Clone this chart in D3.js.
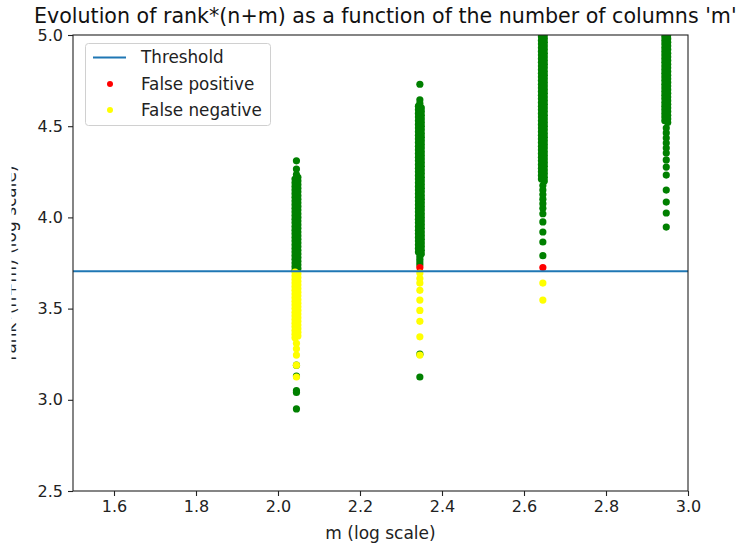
<!DOCTYPE html>
<html>
<head>
<meta charset="utf-8">
<script src="https://cdn.jsdelivr.net/npm/d3@7"></script>
<style>
html,body{margin:0;padding:0;background:#fff;overflow:hidden;}
svg{display:block;font-family:"DejaVu Sans",sans-serif;}
</style>
</head>
<body>
<svg id="chart" width="737" height="544"></svg>
<script>
// ---------- data ----------
const titleText = "Evolution of rank*(n+m) as a function of the number of columns 'm'";
const xLabel = "m (log scale)";
const yLabel = "rank*(n+m) (log scale)";
const xTicks = [1.6, 1.8, 2.0, 2.2, 2.4, 2.6, 2.8, 3.0];
const yTicks = [2.5, 3.0, 3.5, 4.0, 4.5, 5.0];
const threshold = 3.705;
const legendLabels = ["Threshold", "False positive", "False negative"];

// log10(m) of the four column groups (slightly spread m values)
const mCenter = [2.045, 2.346, 2.646, 2.947];
const mLeft   = [2.0415, 2.3425, 2.6425, 2.9435];
const mRight  = [2.0485, 2.3495, 2.6495, 2.9505];

// log10(rank*(n+m)) values, correctly classified (green)
const c1GreenL = [4.21,4.19,4.17,4.15,4.13,4.11,4.09,4.07,4.05,4.03,4.01,3.99,3.97,3.95,3.93,3.91,3.89,3.87,3.85,3.83,3.81,3.79,3.77,3.75,3.73,3.71];
const c1GreenR = [4.22,4.20,4.18,4.16,4.14,4.12,4.10,4.08,4.06,4.04,4.02,4.00,3.98,3.96,3.94,3.92,3.90,3.88,3.86,3.84,3.82,3.80,3.78,3.76,3.74,3.72];
const c1GreenC = [4.31,4.265,4.235,3.19,3.13,3.05,3.04,2.95];
const c2GreenL = [4.61,4.59,4.57,4.55,4.53,4.51,4.49,4.47,4.45,4.43,4.41,4.39,4.37,4.35,4.33,4.31,4.29,4.27,4.25,4.23,4.21,4.19,4.17,4.15,4.13,4.11,4.09,4.07,4.05,4.03,4.01,3.99,3.97,3.95,3.93,3.91,3.89,3.87,3.85,3.83,3.81];
const c2GreenR = [4.60,4.58,4.56,4.54,4.52,4.50,4.48,4.46,4.44,4.42,4.40,4.38,4.36,4.34,4.32,4.30,4.28,4.26,4.24,4.22,4.20,4.18,4.16,4.14,4.12,4.10,4.08,4.06,4.04,4.02,4.00,3.98,3.96,3.94,3.92,3.90,3.88,3.86,3.84,3.82,3.80];
const c2GreenC = [4.73,4.645,4.625,3.785,3.77,3.755,3.74,3.25,3.125];
const c3GreenL = [5.05,5.03,5.01,4.99,4.97,4.95,4.93,4.91,4.89,4.87,4.85,4.83,4.81,4.79,4.77,4.75,4.73,4.71,4.69,4.67,4.65,4.63,4.61,4.59,4.57,4.55,4.53,4.51,4.49,4.47,4.45,4.43,4.41,4.39,4.37,4.35,4.33,4.31,4.29,4.27,4.25,4.23,4.21];
const c3GreenR = [5.06,5.04,5.02,5.00,4.98,4.96,4.94,4.92,4.90,4.88,4.86,4.84,4.82,4.80,4.78,4.76,4.74,4.72,4.70,4.68,4.66,4.64,4.62,4.60,4.58,4.56,4.54,4.52,4.50,4.48,4.46,4.44,4.42,4.40,4.38,4.36,4.34,4.32,4.30,4.28,4.26,4.24,4.22,4.20];
const c3GreenC = [4.175,4.15,4.125,4.10,4.075,4.05,4.02,3.975,3.92,3.865,3.79];
const c4GreenL = [5.05,5.03,5.01,4.99,4.97,4.95,4.93,4.91,4.89,4.87,4.85,4.83,4.81,4.79,4.77,4.75,4.73,4.71,4.69,4.67,4.65,4.63,4.61,4.59,4.57,4.55,4.53];
const c4GreenR = [5.06,5.04,5.02,5.00,4.98,4.96,4.94,4.92,4.90,4.88,4.86,4.84,4.82,4.80,4.78,4.76,4.74,4.72,4.70,4.68,4.66,4.64,4.62,4.60,4.58,4.56,4.54,4.52];
const c4GreenC = [4.49,4.463,4.435,4.408,4.38,4.353,4.315,4.276,4.232,4.15,4.084,4.024,3.947];

// false positives (red)
const c2Red = [3.725];
const c3Red = [3.725];

// false negatives (yellow)
const c1YellowL = [3.70,3.68,3.66,3.64,3.62,3.60,3.58,3.56,3.54,3.52,3.50,3.48,3.46,3.44,3.42,3.40,3.38,3.36,3.34];
const c1YellowR = [3.69,3.67,3.65,3.63,3.61,3.59,3.57,3.55,3.53,3.51,3.49,3.47,3.45,3.43,3.41,3.39,3.37,3.35];
const c1YellowC = [3.31,3.28,3.245,3.19,3.125];
const c2Yellow = [3.695,3.665,3.64,3.60,3.547,3.49,3.43,3.345,3.245];
const c3Yellow = [3.64,3.547];

// build point tables [m, value]
const pts = (m, vals) => vals.map(v => [m, v]);
const greenPoints = [].concat(
  pts(mLeft[0], c1GreenL), pts(mRight[0], c1GreenR), pts(mCenter[0], c1GreenC),
  pts(mLeft[1], c2GreenL), pts(mRight[1], c2GreenR), pts(mCenter[1], c2GreenC),
  pts(mLeft[2], c3GreenL), pts(mRight[2], c3GreenR), pts(mCenter[2], c3GreenC),
  pts(mLeft[3], c4GreenL), pts(mRight[3], c4GreenR), pts(mCenter[3], c4GreenC)
);
const redPoints = [].concat(pts(mCenter[1], c2Red), pts(mCenter[2], c3Red));
const yellowPoints = [].concat(
  pts(mLeft[0], c1YellowL), pts(mRight[0], c1YellowR), pts(mCenter[0], c1YellowC),
  pts(mCenter[1], c2Yellow), pts(mCenter[2], c3Yellow)
);

// ---------- layout ----------
const W = 737, H = 544;
const pLeft = 73, pRight = 688, pTop = 35, pBottom = 491;
const TICKFONT = 16, LEGFONT = 16.8, LABFONT = 17, TITLEFONT = 20.6;

const svg = d3.select("#chart");
const x = d3.scaleLinear().domain([1.5, 3.0]).range([pLeft, pRight]);
const y = d3.scaleLinear().domain([2.5, 5.0]).range([pBottom, pTop]);

const defs = svg.append("defs");
defs.append("clipPath").attr("id", "plotclip")
  .append("rect").attr("x", pLeft).attr("y", pTop).attr("width", pRight - pLeft).attr("height", pBottom - pTop);
defs.append("clipPath").attr("id", "ylabclip")
  .append("rect").attr("x", 11.5).attr("y", 0).attr("width", 60).attr("height", H);

// points
const plot = svg.append("g").attr("clip-path", "url(#plotclip)");
const R = 3.6;
function scatter(data, color) {
  plot.append("g").selectAll("circle").data(data).join("circle")
    .attr("cx", d => x(d[0])).attr("cy", d => y(d[1])).attr("r", R).attr("fill", color);
}
scatter(greenPoints, "green");
scatter(redPoints, "red");
scatter(yellowPoints, "yellow");
plot.append("line")
  .attr("x1", pLeft).attr("x2", pRight).attr("y1", y(threshold)).attr("y2", y(threshold))
  .attr("stroke", "#1f77b4").attr("stroke-width", 2);

// axes
const xAxis = d3.axisBottom(x).tickValues(xTicks).tickFormat(d3.format(".1f")).tickSize(5).tickPadding(5);
const yAxis = d3.axisLeft(y).tickValues(yTicks).tickFormat(d3.format(".1f")).tickSize(5).tickPadding(5);
const gx = svg.append("g").attr("transform", `translate(0,${pBottom})`).call(xAxis);
const gy = svg.append("g").attr("transform", `translate(${pLeft},0)`).call(yAxis);
[gx, gy].forEach(g => {
  g.select(".domain").remove();
  g.selectAll("text").attr("font-size", TICKFONT).attr("font-family", "DejaVu Sans").attr("fill", "#222");
  g.selectAll("line").attr("stroke", "#222").attr("stroke-width", 1.1);
});

// frame
svg.append("rect").attr("x", pLeft).attr("y", pTop).attr("width", pRight - pLeft).attr("height", pBottom - pTop)
  .attr("fill", "none").attr("stroke", "#222").attr("stroke-width", 1.1);

// title & labels
svg.append("text").attr("x", 34).attr("y", 23).attr("text-anchor", "start")
  .attr("font-size", TITLEFONT).attr("fill", "#111").text(titleText);
svg.append("text").attr("x", (pLeft + pRight) / 2).attr("y", 539).attr("text-anchor", "middle")
  .attr("font-size", LABFONT).attr("fill", "#222").text(xLabel);
svg.append("g").attr("clip-path", "url(#ylabclip)")
  .append("text").attr("transform", `translate(16,${(pTop + pBottom) / 2}) rotate(-90)`)
  .attr("text-anchor", "middle").attr("font-size", LABFONT).attr("fill", "#222").text(yLabel);

// legend
const lg = svg.append("g");
lg.append("rect").attr("x", 85.5).attr("y", 43.5).attr("width", 185).attr("height", 82).attr("rx", 3)
  .attr("fill", "white").attr("fill-opacity", 0.8).attr("stroke", "#d0d0d0").attr("stroke-width", 1);
const rowY = [57.5, 84, 110];
lg.append("line").attr("x1", 93).attr("x2", 126).attr("y1", rowY[0]).attr("y2", rowY[0])
  .attr("stroke", "#1f77b4").attr("stroke-width", 2);
lg.append("circle").attr("cx", 110).attr("cy", rowY[1]).attr("r", 3).attr("fill", "red");
lg.append("circle").attr("cx", 110).attr("cy", rowY[2]).attr("r", 3).attr("fill", "yellow");
lg.selectAll("text.lab").data(legendLabels).join("text").attr("class", "lab")
  .attr("x", 141).attr("y", (d, i) => rowY[i]).attr("dy", "0.35em")
  .attr("font-size", LEGFONT).attr("fill", "#222").text(d => d);
</script>
</body>
</html>
